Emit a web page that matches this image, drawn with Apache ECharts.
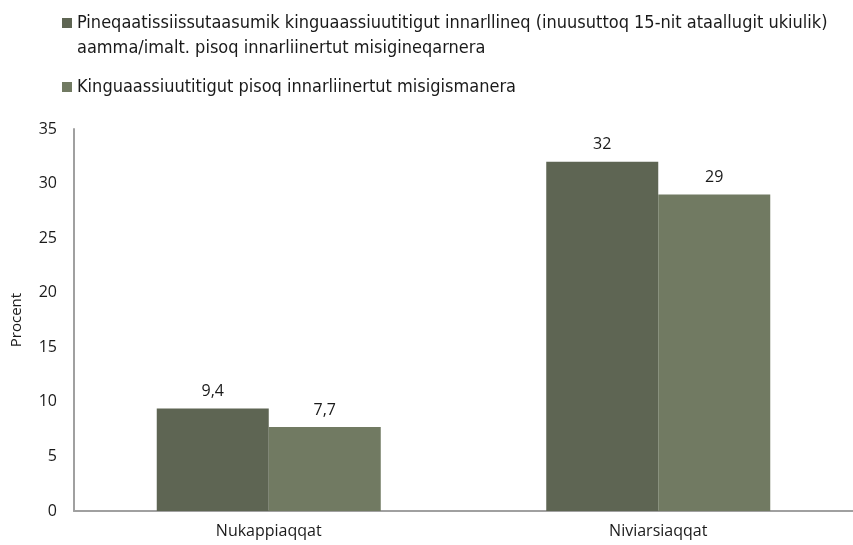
<!DOCTYPE html>
<html>
<head>
<meta charset="utf-8">
<script src="https://cdn.jsdelivr.net/npm/echarts@6/dist/echarts.min.js"></script>
<style>
  html, body { margin: 0; padding: 0; background: #fff; }
  #chart { width: 853px; height: 545px; }
</style>
</head>
<body>
<div id="chart"></div>
<script>
// kategorier og værdier
const categories = ['Nukappiaqqat', 'Niviarsiaqqat'];
const seriesNames = [
  'Pineqaatissiissutaasumik kinguaassiuutitigut innarllineq (inuusuttoq 15-nit ataallugit ukiulik)\naamma/imalt. pisoq innarliinertut misigineqarnera',
  'Kinguaassiuutitigut pisoq innarliinertut misigismanera'
];
const valuesFirst = [9.4, 32];
const valuesSecond = [7.7, 29];
const yTicks = { min: 0, max: 35, interval: 5 };

const chart = echarts.init(document.getElementById('chart'));

// komma som decimaltegn
const fmt = v => String(v).replace('.', ',');
const baseFont = 'Open Sans';
const legendFont = '"DejaVu Sans Condensed", "Liberation Sans Narrow", Roboto, sans-serif';

const labelStyle = {
  show: true,
  position: 'top',
  distance: 9,
  color: '#1a1a1a',
  fontFamily: baseFont,
  fontSize: 16,
  formatter: p => fmt(p.value)
};

const option = {
  animation: false,
  legend: {
    orient: 'vertical',
    left: 57,
    top: -19.5,
    itemWidth: 10,
    itemHeight: 10,
    itemGap: 14,
    icon: 'rect',
    // tom linje foran, så symbolet står ud for første tekstlinje
    formatter: name => name.indexOf('\n') >= 0 ? '\n' + name : name,
    textStyle: {
      fontFamily: legendFont,
      fontSize: 18,
      color: '#1a1a1a',
      lineHeight: 25
    },
    data: seriesNames
  },
  grid: {
    left: 74,
    top: 129,
    width: 792,
    height: 382
  },
  xAxis: {
    type: 'category',
    data: categories,
    axisLine: { lineStyle: { color: '#a0a0a0', width: 2 } },
    axisTick: { show: false },
    axisLabel: {
      margin: 12,
      color: '#1a1a1a',
      fontFamily: baseFont,
      fontSize: 16
    }
  },
  yAxis: {
    type: 'value',
    min: yTicks.min,
    max: yTicks.max,
    interval: yTicks.interval,
    name: 'Procent',
    nameLocation: 'middle',
    nameGap: 50,
    nameTextStyle: { fontFamily: baseFont, fontSize: 15, color: '#1a1a1a' },
    axisLine: { show: true, lineStyle: { color: '#a0a0a0', width: 2 } },
    axisTick: { show: false },
    splitLine: { show: false },
    axisLabel: {
      margin: 17,
      color: '#1a1a1a',
      fontFamily: baseFont,
      fontSize: 16
    }
  },
  series: [
    {
      name: seriesNames[0],
      type: 'bar',
      data: valuesFirst,
      barWidth: 112,
      barGap: '0%',
      itemStyle: { color: '#5e6553' },
      label: labelStyle
    },
    {
      name: seriesNames[1],
      type: 'bar',
      data: valuesSecond,
      barWidth: 112,
      itemStyle: { color: '#717a62' },
      label: labelStyle
    }
  ]
};

chart.setOption(option);
</script>
</body>
</html>
